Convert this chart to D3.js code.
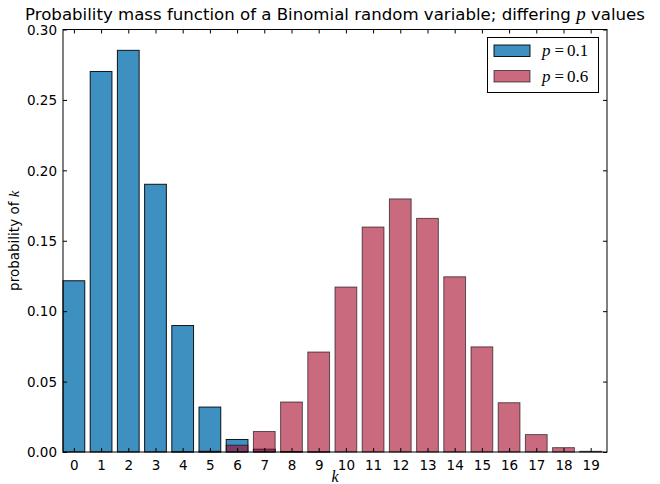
<!DOCTYPE html>
<html><head><meta charset="utf-8">
<script src="https://cdn.jsdelivr.net/npm/d3@7"></script>
<style>body{margin:0;background:#fff}svg{display:block}</style>
</head><body><div id="c"></div>
<script>
const ks = d3.range(0, 20);
const pmfP01 = [0.1216,0.2702,0.2852,0.1901,0.0898,0.0319,0.0089,0.0020,0.00036,0.00005,0,0,0,0,0,0,0,0,0,0];
const pmfP06 = [0,0,0,0,0.00007,0.00052,0.00485,0.01456,0.03550,0.07099,0.11714,0.15974,0.17971,0.16588,0.12441,0.07465,0.03499,0.01235,0.00309,0.00049];
const yTicks = [0,0.05,0.10,0.15,0.20,0.25,0.30];
const seriesLabels = ["0.1","0.6"];

const W=660,H=484;
const m={l:63,r:607,t:29.5,b:452};
const svg=d3.select("#c").append("svg").attr("width",W).attr("height",H);
const x=d3.scaleLinear().domain([-0.4,19.6]).range([m.l,m.r]);
const y=d3.scaleLinear().domain([0,0.30]).range([m.b,m.t]);
const bw=x(0.8)-x(0);

function bars(data,fill,fo,stroke,so){
  svg.append("g").selectAll("rect").data(data).join("rect")
    .attr("x",(d,i)=>x(ks[i]-0.4)).attr("width",bw)
    .attr("y",d=>y(d)).attr("height",d=>y(0)-y(d))
    .attr("fill",fill).attr("fill-opacity",fo)
    .attr("stroke",stroke).attr("stroke-opacity",so).attr("stroke-width",1);
}
bars(pmfP01,"#348ABD",0.95,"#000",0.9);
bars(pmfP06,"#A60628",0.6,"#000",0.6);

const font="DejaVu Sans, sans-serif";
const gx=svg.append("g").attr("transform",`translate(0,${m.b})`)
  .call(d3.axisBottom(x).tickValues(ks).tickFormat(d3.format("d")).tickSizeInner(-4).tickSizeOuter(0).tickPadding(8));
const gxt=svg.append("g").attr("transform",`translate(0,${m.t})`)
  .call(d3.axisTop(x).tickValues(ks).tickFormat("").tickSizeInner(-4).tickSizeOuter(0));
const gy=svg.append("g").attr("transform",`translate(${m.l},0)`)
  .call(d3.axisLeft(y).tickValues(yTicks).tickFormat(d3.format(".2f")).tickSizeInner(-4).tickSizeOuter(0).tickPadding(6));
const gyr=svg.append("g").attr("transform",`translate(${m.r},0)`)
  .call(d3.axisRight(y).tickValues(yTicks).tickFormat("").tickSizeInner(-4).tickSizeOuter(0));
[gx,gxt,gy,gyr].forEach(g=>{g.select(".domain").remove();g.selectAll("line").attr("stroke","#000");
  g.selectAll("text").attr("font-family",font).attr("font-size",13.5).attr("fill","#000");});
gy.selectAll("text").attr("dy","0.35em");
svg.append("rect").attr("x",m.l).attr("y",m.t).attr("width",m.r-m.l).attr("height",m.b-m.t)
  .attr("fill","none").attr("stroke","#000").attr("stroke-width",1);

const t=svg.append("text").attr("x",(m.l+m.r)/2).attr("y",20).attr("text-anchor","middle")
  .attr("font-family",font).attr("font-size",16.6).attr("fill","#000");
t.append("tspan").text("Probability mass function of a Binomial random variable; differing ");
t.append("tspan").attr("font-family","Liberation Serif, DejaVu Serif, serif").attr("font-style","italic").attr("font-size",19).text("p");
t.append("tspan").text(" values");

svg.append("text").attr("x",(m.l+m.r)/2).attr("y",482).attr("text-anchor","middle")
  .attr("font-family","Liberation Serif, serif").attr("font-style","italic").attr("font-size",16).text("k");
const yl=svg.append("text").attr("transform",`translate(19,${(m.t+m.b)/2}) rotate(-90)`).attr("text-anchor","middle")
  .attr("font-family",font).attr("font-size",13.5);
yl.append("tspan").text("probability of ");
yl.append("tspan").attr("font-family","Liberation Serif, serif").attr("font-style","italic").attr("font-size",15).text("k");

const lg=svg.append("g");
lg.append("rect").attr("x",487.5).attr("y",37.5).attr("width",111).attr("height",55).attr("fill","#fff").attr("stroke","#000");
const cols=[["#348ABD",0.95,0.9],["#A60628",0.6,0.6]];
seriesLabels.forEach((s,i)=>{
  const yy=45+i*25.5;
  lg.append("rect").attr("x",494).attr("y",yy).attr("width",36).attr("height",11.5)
    .attr("fill",cols[i][0]).attr("fill-opacity",cols[i][1]).attr("stroke","#000").attr("stroke-opacity",cols[i][2]);
  const tx=lg.append("text").attr("x",542).attr("y",yy+11).attr("font-family","Liberation Serif, DejaVu Serif, serif").attr("font-size",17);
  tx.append("tspan").attr("font-style","italic").text("p");
  tx.append("tspan").attr("dx",4).text("=");
  tx.append("tspan").attr("dx",3).text(s);
});
</script></body></html>
